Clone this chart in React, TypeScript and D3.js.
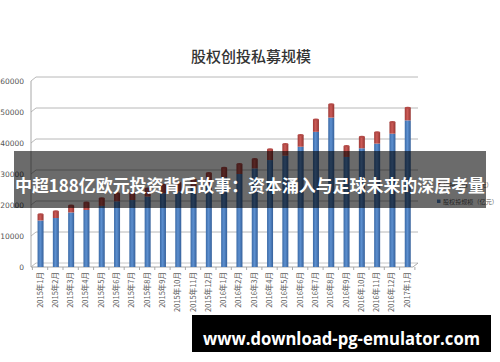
import React from "react";
import * as d3 from "d3";

const months: string[] = [
  "2015年1月","2015年2月","2015年3月","2015年4月","2015年5月","2015年6月","2015年7月","2015年8月","2015年9月","2015年10月","2015年11月","2015年12月",
  "2016年1月","2016年2月","2016年3月","2016年4月","2016年5月","2016年6月","2016年7月","2016年8月","2016年9月","2016年10月","2016年11月","2016年12月",
  "2017年1月",
];
// blue series (bottom)
const equityScale: number[] = [
  15000, 15800, 17600, 18400, 19700, 21200, 21600, 22700, 23800, 24400, 25500, 27300,
  29000, 30000, 31800, 34500, 35900, 38800, 43600, 48200, 35500, 38300, 39800, 43000, 47300,
];
// red series (top)
const ventureScale: number[] = [
  2000, 2200, 2200, 2400, 2500, 2600, 2400, 2600, 2700, 2800, 2800, 3000,
  3000, 3200, 3000, 3500, 3800, 3800, 4000, 4300, 3500, 3700, 3700, 3800, 4100,
];
const yTicks: number[] = [0, 10000, 20000, 30000, 40000, 50000, 60000];
const titleText = "股权创投私募规模";
const legendLabels: string[] = ["创投规模（亿元）", "股权投规模（亿元）"];
const bannerText = "中超188亿欧元投资背后故事：资本涌入与足球未来的深层考量";
const footerText = "www.download-pg-emulator.com";

const W = 500, H = 362;
const DX = 5, DY = 4; // 3D depth offset

export default function App() {
  const x = d3.scaleBand<string>().domain(months).range([32.4, 414.9]).padding(0);
  const y = d3.scaleLinear().domain([0, 60000]).range([267, 81]);
  const barW = 6;
  const x0 = y.range()[0];

  return (
    <svg width={W} height={H} style={{ position: "absolute", left: 0, top: 0, background: "#fff" }}
      fontFamily="'Noto Sans CJK SC', 'Noto Sans', sans-serif">
      <defs>
        <linearGradient id="gb" x1="0" x2="1" y1="0" y2="0">
          <stop offset="0" stopColor="#3b6aa6" />
          <stop offset="0.45" stopColor="#5d90d0" />
          <stop offset="1" stopColor="#35609a" />
        </linearGradient>
        <linearGradient id="gr" x1="0" x2="1" y1="0" y2="0">
          <stop offset="0" stopColor="#9e3a37" />
          <stop offset="0.45" stopColor="#cc5b57" />
          <stop offset="1" stopColor="#943431" />
        </linearGradient>
      </defs>

      <text x={251} y={55} textAnchor="middle" dominantBaseline="central" fontSize={15} fill="#333" fontWeight={500}>
        {titleText}
      </text>

      {/* gridlines on back wall */}
      {yTicks.map((t) => (
        <g key={t}>
          {t > 0 && (
            <line x1={31 + DX} x2={413 + DX} y1={y(t) - DY} y2={y(t) - DY} stroke="#b8b8b8" strokeWidth={1} />
          )}
          <line x1={31} x2={31 + DX} y1={y(t)} y2={y(t) - DY} stroke="#b8b8b8" strokeWidth={1} />
          <text x={24} y={y(t)} textAnchor="end" dominantBaseline="central" fontSize={7.5} fill="#555"
            fontFamily="'DejaVu Sans', sans-serif">
            {t}
          </text>
        </g>
      ))}
      {/* walls & floor */}
      <line x1={31} x2={31} y1={y(60000)} y2={x0} stroke="#a8a8a8" />
      <line x1={31 + DX} x2={413 + DX} y1={x0 - DY} y2={x0 - DY} stroke="#c8c8c8" />
      <line x1={31} x2={413} y1={x0} y2={x0} stroke="#a8a8a8" />
      <line x1={413} x2={413 + DX} y1={x0} y2={x0 - DY} stroke="#a8a8a8" />
      {months.map((m) => (
        <line key={"tk" + m} x1={(x(m) as number)} x2={(x(m) as number)} y1={x0} y2={x0 + 3} stroke="#a8a8a8" />
      ))}
      <line x1={414.9} x2={414.9} y1={x0} y2={x0 + 3} stroke="#a8a8a8" />

      {/* bars */}
      {months.map((m, i) => {
        const cx = (x(m) as number) + x.bandwidth() / 2 + 0.5;
        const b = equityScale[i];
        const tot = b + ventureScale[i];
        return (
          <g key={m}>
            <rect x={cx - barW / 2} y={y(b)} width={barW} height={x0 - y(b)} fill="url(#gb)" />
            <rect x={cx - barW / 2} y={y(tot)} width={barW} height={y(b) - y(tot)} fill="url(#gr)" />
            <ellipse cx={cx} cy={y(tot)} rx={barW / 2} ry={1} fill="#b44a47" />
          </g>
        );
      })}

      {/* x labels */}
      {months.map((m) => {
        const cx = (x(m) as number) + x.bandwidth() / 2;
        return (
          <text key={"l" + m} transform={`translate(${cx + 2.5},${272}) rotate(-90)`} textAnchor="end"
            fontSize={7.5} fill="#606060">
            {m}
          </text>
        );
      })}

      {/* legend */}
      <rect x={437} y={182} width={3.5} height={3.5} fill="#c0504d" />
      <text x={443} y={184} dominantBaseline="central" fontSize={6.2} fill="#595959">{legendLabels[0]}</text>
      <rect x={437} y={199.5} width={3.5} height={3.5} fill="#4f81bd" />
      <text x={443} y={201} dominantBaseline="central" fontSize={6.1} fill="#595959">{legendLabels[1]}</text>

      {/* overlay banner */}
      <rect x={14} y={151} width={472} height={57} fill="#000" fillOpacity={0.58} />
      <text x={15} y={184} dominantBaseline="central" fontSize={17} fontWeight={700} fill="#fff"
        textLength={470} lengthAdjust="spacingAndGlyphs">
        {bannerText}
      </text>

      {/* footer */}
      <rect x={192} y={315} width={299} height={37} fill="#000" />
      <text x={203} y={344.5} fontSize={17} fontWeight={700} fill="#fff" fontFamily="'Open Sans', sans-serif"
        textLength={277} lengthAdjust="spacingAndGlyphs">
        {footerText}
      </text>
    </svg>
  );
}
